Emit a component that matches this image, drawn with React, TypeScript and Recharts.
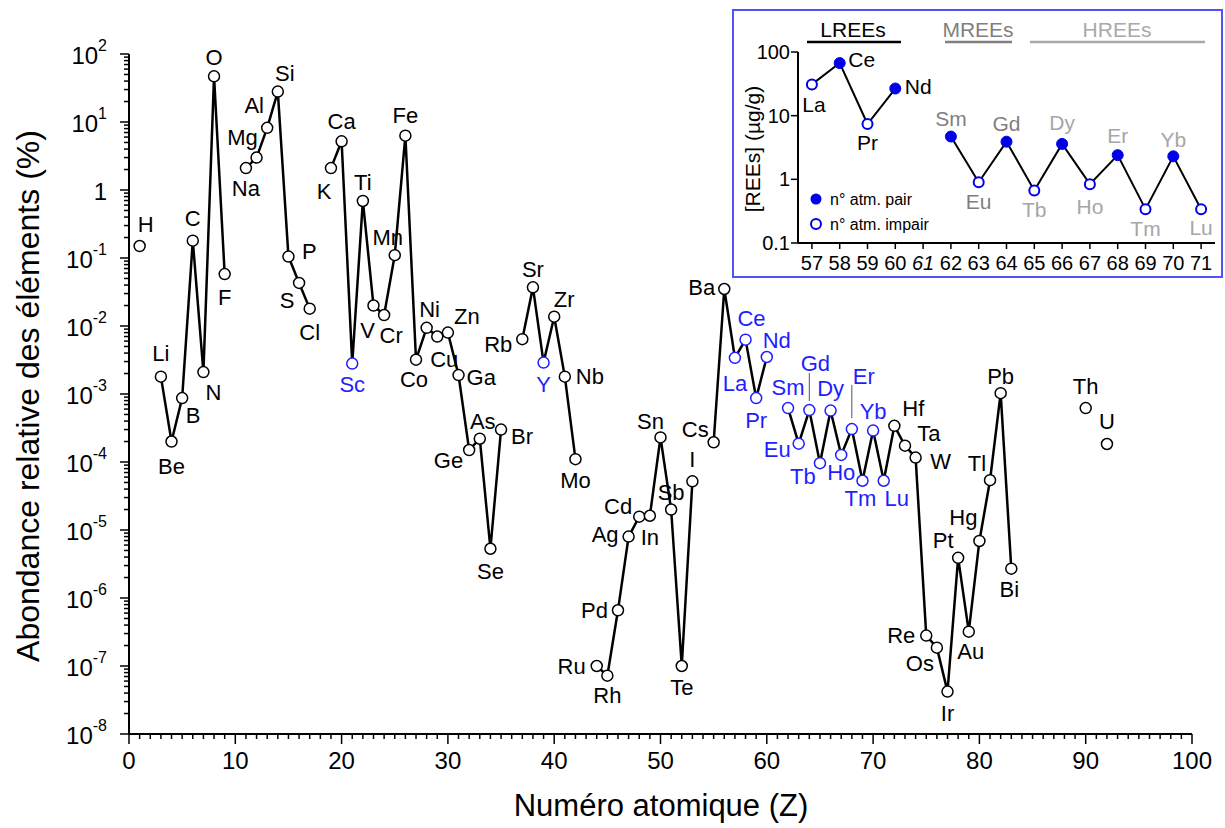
import React from 'react';
import { LineChart, Line, XAxis, YAxis } from 'recharts';

const FONT = '"Liberation Sans", Arial, Helvetica, sans-serif';
const BLUE = '#1e1eff';
const INSET_BLUE = '#0000e6';

// ---------- main chart data ----------
const elementSymbols = ['H','Li','Be','B','C','N','O','F','Na','Mg','Al','Si','P','S','Cl','K','Ca','Sc','Ti','V','Cr','Mn','Fe','Co','Ni','Cu','Zn','Ga','Ge','As','Se','Br','Rb','Sr','Y','Zr','Nb','Mo','Ru','Rh','Pd','Ag','Cd','In','Sn','Sb','Te','I','Cs','Ba','La','Ce','Pr','Nd','Sm','Eu','Gd','Tb','Dy','Ho','Er','Tm','Yb','Lu','Hf','Ta','W','Re','Os','Ir','Pt','Au','Hg','Tl','Pb','Bi','Th','U'];
const atomicNumbers = [1,3,4,5,6,7,8,9,11,12,13,14,15,16,17,19,20,21,22,23,24,25,26,27,28,29,30,31,32,33,34,35,37,38,39,40,41,42,44,45,46,47,48,49,50,51,52,53,55,56,57,58,59,60,62,63,64,65,66,67,68,69,70,71,72,73,74,75,76,77,78,79,80,81,82,83,90,92];
const abundances = [0.15,0.0018,2.0e-4,8.7e-4,0.18,0.0021,47,0.058,2.1,3.0,8.2,28,0.105,0.043,0.018,2.1,5.2,0.0028,0.69,0.02,0.0145,0.11,6.3,0.0032,0.0094,0.007,0.008,0.0019,1.5e-4,2.2e-4,5.3e-6,3.0e-4,0.0064,0.037,0.0029,0.0137,0.0018,1.1e-4,1.0e-7,7.2e-8,6.6e-7,8.0e-6,1.57e-5,1.62e-5,2.3e-4,2.0e-5,1.0e-7,5.2e-5,1.95e-4,0.035,0.0034,0.0063,8.7e-4,0.0035,6.2e-4,1.86e-4,5.8e-4,9.6e-5,5.7e-4,1.27e-4,3.05e-4,5.3e-5,2.9e-4,5.3e-5,3.4e-4,1.74e-4,1.16e-4,2.8e-7,1.86e-7,4.2e-8,3.9e-6,3.2e-7,6.9e-6,5.4e-5,1.03e-3,2.7e-6,6.2e-4,1.84e-4];
const reeSymbolsMain = ['Sc','Y','La','Ce','Pr','Nd','Sm','Eu','Gd','Tb','Dy','Ho','Er','Tm','Yb','Lu'];

const xMajorTicks = [0,10,20,30,40,50,60,70,80,90,100];
const xMajorTickLabels = ['0','10','20','30','40','50','60','70','80','90','100'];
const yTickExponents = [-8,-7,-6,-5,-4,-3,-2,-1,0,1,2];
const yTickLabels = ['10','10','10','10','10','10','10','10','1','10','10'];

// ---------- inset data ----------
const reeZ = [57,58,59,60,61,62,63,64,65,66,67,68,69,70,71];
const reeSymbols = ['La','Ce','Pr','Nd','Pm','Sm','Eu','Gd','Tb','Dy','Ho','Er','Tm','Yb','Lu'];
const reeValues = [31,67,7.4,26.7,null,4.7,0.9,3.9,0.67,3.6,0.84,2.4,0.34,2.3,0.34];
const insetYTicks = [0.1,1,10,100];
const insetYTickLabels = ['0.1','1','10','100'];

// ---------- label placement (style) ----------
type Off = [number, number, ('start'|'middle'|'end')?, [number, number]?];
const labelOffsets: Record<string, Off> = {
  H:[6,-22], Li:[0,-23], Be:[0,25], B:[11,17], C:[0,-22], N:[10,20], O:[0,-19], F:[0,23],
  Na:[0,20], Mg:[-14,-20], Al:[-13,-22], Si:[7,-18], P:[21,-5], S:[-12,18], Cl:[0,24],
  K:[-7,23], Ca:[0,-20], Sc:[0,21], Ti:[0,-18], V:[-6,25], Cr:[7,20], Mn:[-7,-18], Fe:[0,-20],
  Co:[-2,20], Ni:[3,-18], Cu:[7,23], Zn:[19,-16], Ga:[8,2,'start'], Ge:[-6,10,'end'], As:[3,-17],
  Se:[0,23], Br:[10,7,'start'], Rb:[-10,5,'end'], Sr:[0,-18], Y:[0,22], Zr:[10,-17], Nb:[11,0,'start'],
  Mo:[0,21], Ru:[-11,0,'end'], Rh:[0,20], Pd:[-10,0,'end'], Ag:[-10,-2,'end'], Cd:[-7,-10,'end'],
  In:[0,22], Sn:[-10,-16], Sb:[0,-17], Te:[0,21], I:[0,-22], Cs:[-5,-13,'end'], Ba:[-9,-2,'end'],
  La:[0,26], Ce:[6,-21], Pr:[0,22], Nd:[10,-17], Sm:[0,-21], Eu:[-8,6,'end'], Gd:[6,-47,'middle',[-37,-9]],
  Tb:[-17,13], Dy:[0,-22], Ho:[0,18], Er:[12,-53,'middle',[-44,-11]], Tm:[-2,18], Yb:[0,-19], Lu:[13,18],
  Hf:[19,-17], Ta:[24,-12], W:[25,4], Re:[-11,0,'end'], Os:[-17,16], Ir:[0,22], Pt:[-15,-17],
  Au:[2,20], Hg:[-16,-23], Tl:[-13,-17], Pb:[0,-17], Bi:[-2,21], Th:[0,-22], U:[0,-22],
};
const insetLabelOffsets: Record<string, [number, number]> = {
  La:[2,20], Ce:[22,-4], Pr:[0,19], Nd:[23,-2], Sm:[0,-18], Eu:[0,19], Gd:[0,-18], Tb:[0,19],
  Dy:[0,-21], Ho:[0,22], Er:[0,-20], Tm:[0,19], Yb:[0,-17], Lu:[0,18],
};

// ---------- tables built from arrays ----------
const mainData = Array.from({ length: 92 }, (_, i) => {
  const z = i + 1;
  const idx = atomicNumbers.indexOf(z);
  return {
    z,
    v: idx >= 0 ? abundances[idx] : null,
    sym: idx >= 0 ? elementSymbols[idx] : '',
    ree: idx >= 0 && reeSymbolsMain.includes(elementSymbols[idx]),
  };
});
const insetData = reeZ.map((z, i) => ({ z, v: reeValues[i], sym: reeSymbols[i] }));

const xTicks: number[] = [];
for (let i = 0; i <= 100; i++) xTicks.push(i);
const yTicks: number[] = [];
yTickExponents.forEach((e, k) => {
  if (k === yTickExponents.length - 1) { yTicks.push(Math.pow(10, e)); return; }
  for (let m = 1; m <= 9; m++) yTicks.push(m * Math.pow(10, e));
});

// ---------- tick renderers ----------
const XTick = (props: any) => {
  const { x, y, payload } = props;
  const v = payload.value;
  const mi = xMajorTicks.indexOf(v);
  const major = mi >= 0;
  return (
    <g>
      <line x1={x} x2={x} y1={y} y2={y + (major ? 10 : 5)} stroke="#000" strokeWidth={1.5} />
      {major && (
        <text x={x} y={y + 26} textAnchor="middle" dominantBaseline="central" fontSize={24} fontFamily={FONT} fill="#000">
          {xMajorTickLabels[mi]}
        </text>
      )}
    </g>
  );
};

const YTick = (props: any) => {
  const { x, y, payload } = props;
  const v = payload.value;
  const lg = Math.log10(v);
  const e = Math.round(lg);
  const major = Math.abs(lg - e) < 1e-6;
  const ei = yTickExponents.indexOf(e);
  return (
    <g>
      <line x1={x - (major ? 9 : 5)} x2={x} y1={y} y2={y} stroke="#000" strokeWidth={1.5} />
      {major && (
        <text x={x - 22} y={y + 1} textAnchor="end" dominantBaseline="central" fontSize={24} fontFamily={FONT} fill="#000">
          {yTickLabels[ei]}
          {e !== 0 && <tspan dy={-10} fontSize={16}>{String(e)}</tspan>}
        </text>
      )}
    </g>
  );
};

const InsetXTick = (props: any) => {
  const { x, y, payload } = props;
  const v = payload.value;
  return (
    <g>
      <line x1={x} x2={x} y1={y} y2={y + 6} stroke="#000" strokeWidth={1.5} />
      <text x={x} y={y + 20} textAnchor="middle" dominantBaseline="central" fontSize={20} fontFamily={FONT}
        fontStyle={v === 61 ? 'italic' : 'normal'} fill="#000">{v}</text>
    </g>
  );
};

const InsetYTick = (props: any) => {
  const { x, y, payload } = props;
  const i = insetYTicks.indexOf(payload.value);
  return (
    <g>
      <line x1={x - 7} x2={x} y1={y} y2={y} stroke="#000" strokeWidth={1.5} />
      <text x={x - 8} y={y} textAnchor="end" dominantBaseline="central" fontSize={20} fontFamily={FONT} fill="#000">
        {insetYTickLabels[i]}
      </text>
    </g>
  );
};

// ---------- dot renderers ----------
const renderMainDot = (props: any) => {
  const { cx, cy, payload, index } = props;
  if (payload == null || payload.v == null || cx == null || cy == null || isNaN(cy)) return <g key={`md-${index}`} />;
  const col = payload.ree ? BLUE : '#000';
  const off: Off = labelOffsets[payload.sym] || [0, -20];
  const anchor = off[2] || 'middle';
  return (
    <g key={`md-${index}`}>
      {off[3] && <line x1={cx} x2={cx} y1={cy + off[3][0]} y2={cy + off[3][1]} stroke="#555" strokeWidth={1} />}
      <circle cx={cx} cy={cy} r={5.5} fill="#fff" stroke={col} strokeWidth={1.5} />
      <text x={cx + off[0]} y={cy + off[1]} textAnchor={anchor} dominantBaseline="central" fontSize={22} fontFamily={FONT} fill={col}>
        {payload.sym}
      </text>
    </g>
  );
};

const insetLabelColor = (z: number) => (z <= 60 ? '#000' : z <= 64 ? '#7f7f7f' : '#a6a6a6');

const renderInsetDot = (props: any) => {
  const { cx, cy, payload, index } = props;
  if (payload == null || payload.v == null || cx == null || cy == null || isNaN(cy)) return <g key={`id-${index}`} />;
  const even = payload.z % 2 === 0;
  const off = insetLabelOffsets[payload.sym] || [0, -18];
  return (
    <g key={`id-${index}`}>
      {even ? (
        <circle cx={cx} cy={cy} r={5.5} fill={INSET_BLUE} stroke={INSET_BLUE} strokeWidth={1} />
      ) : (
        <circle cx={cx} cy={cy} r={5} fill="#fff" stroke={INSET_BLUE} strokeWidth={2} />
      )}
      <text x={cx + off[0]} y={cy + off[1]} textAnchor="middle" dominantBaseline="central" fontSize={21} fontFamily={FONT} fill={insetLabelColor(payload.z)}>
        {payload.sym}
      </text>
    </g>
  );
};

export default function App() {
  return (
    <div style={{ position: 'absolute', left: 0, top: 0, width: 1225, height: 828, background: '#fff', fontFamily: FONT }}>
      <div style={{ position: 'absolute', left: 0, top: 0 }}>
        <LineChart width={1225} height={828} data={mainData} margin={{ top: 54, right: 33, bottom: 0, left: 0 }}>
          <XAxis dataKey="z" type="number" domain={[0, 100]} ticks={xTicks} interval={0} tickSize={0} tickMargin={0}
            tickLine={false} axisLine={{ stroke: '#000', strokeWidth: 2 }} height={94} tick={XTick} />
          <YAxis type="number" scale="log" domain={[1e-8, 100]} ticks={yTicks} interval={0} tickSize={0} tickMargin={0}
            tickLine={false} axisLine={{ stroke: '#000', strokeWidth: 2 }} width={129} tick={YTick} />
          <Line dataKey="v" stroke="#000" strokeWidth={2.5} dot={renderMainDot} activeDot={false}
            connectNulls={false} isAnimationActive={false} />
        </LineChart>
      </div>

      <div style={{ position: 'absolute', left: 733, top: 10, width: 489, height: 267, background: '#fff' }}>
        <LineChart width={489} height={267} data={insetData} margin={{ top: 42, right: 7, bottom: 0, left: 0 }}>
          <XAxis dataKey="z" type="number" domain={[56.5, 71.5]} ticks={reeZ} interval={0} tickSize={0} tickMargin={0}
            tickLine={false} axisLine={{ stroke: '#000', strokeWidth: 2 }} height={34} tick={InsetXTick} />
          <YAxis type="number" scale="log" domain={[0.1, 100]} ticks={insetYTicks} interval={0} tickSize={0} tickMargin={0}
            tickLine={false} axisLine={{ stroke: '#000', strokeWidth: 2 }} width={65} tick={InsetYTick} />
          <Line dataKey="v" stroke="#000" strokeWidth={2} dot={renderInsetDot} activeDot={false}
            connectNulls={false} isAnimationActive={false} />
        </LineChart>
      </div>

      <svg width={1225} height={828} style={{ position: 'absolute', left: 0, top: 0, pointerEvents: 'none' }}>
        {/* main axis titles */}
        <text x={661} y={805} textAnchor="middle" dominantBaseline="central" fontSize={31} fontFamily={FONT} fill="#000">
          Numéro atomique (Z)
        </text>
        <text x={28} y={396} transform="rotate(-90 28 396)" textAnchor="middle" dominantBaseline="central" fontSize={32} fontFamily={FONT} fill="#000">
          Abondance relative des éléments (%)
        </text>

        {/* inset frame */}
        <rect x={733} y={10} width={489} height={267} fill="none" stroke="#5252f5" strokeWidth={2} />
        <text x={752} y={149} transform="rotate(-90 752 149)" textAnchor="middle" dominantBaseline="central" fontSize={21} fontFamily={FONT} fill="#000">
          [REEs] (µg/g)
        </text>

        {/* group headers */}
        <text x={853} y={29} textAnchor="middle" dominantBaseline="central" fontSize={21} fontFamily={FONT} fill="#000">LREEs</text>
        <line x1={807} x2={901} y1={42} y2={42} stroke="#000" strokeWidth={2.5} />
        <text x={978} y={29} textAnchor="middle" dominantBaseline="central" fontSize={21} fontFamily={FONT} fill="#7f7f7f">MREEs</text>
        <line x1={945} x2={1012} y1={42} y2={42} stroke="#7f7f7f" strokeWidth={2.5} />
        <text x={1117} y={29} textAnchor="middle" dominantBaseline="central" fontSize={21} fontFamily={FONT} fill="#a9a9a9">HREEs</text>
        <line x1={1030} x2={1205} y1={42} y2={42} stroke="#a9a9a9" strokeWidth={2.5} />

        {/* legend */}
        <circle cx={816} cy={199} r={5.5} fill={INSET_BLUE} />
        <text x={830} y={199} dominantBaseline="central" fontSize={16} fontFamily={FONT} fill="#000">n° atm. pair</text>
        <circle cx={816} cy={224} r={5} fill="#fff" stroke={INSET_BLUE} strokeWidth={2} />
        <text x={830} y={224} dominantBaseline="central" fontSize={16} fontFamily={FONT} fill="#000">n° atm. impair</text>
      </svg>
    </div>
  );
}
